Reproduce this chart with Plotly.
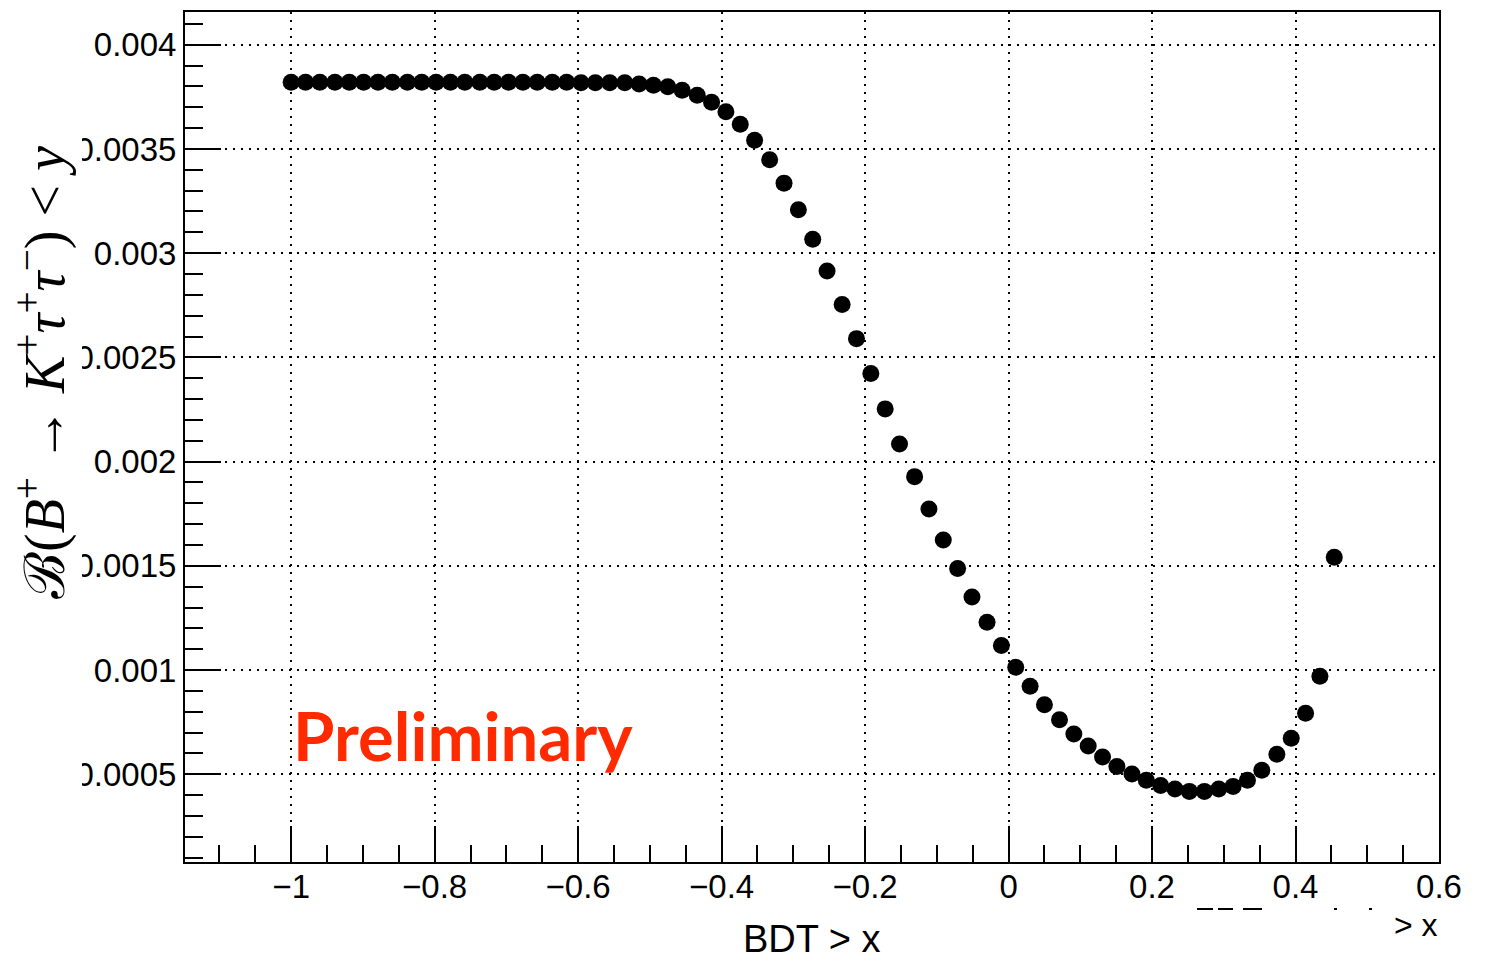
import plotly.graph_objects as go

# ---- data ----
bdt_cut = [-1.000, -0.980, -0.960, -0.939, -0.919, -0.899, -0.879, -0.859, -0.838, -0.818,
           -0.798, -0.778, -0.758, -0.737, -0.717, -0.697, -0.677, -0.657, -0.636, -0.616,
           -0.596, -0.576, -0.556, -0.535, -0.515, -0.495, -0.475, -0.455, -0.434, -0.414,
           -0.394, -0.374, -0.354, -0.333, -0.313, -0.293, -0.273, -0.253, -0.232, -0.212,
           -0.192, -0.172, -0.152, -0.131, -0.111, -0.091, -0.071, -0.051, -0.030, -0.010,
           0.010, 0.030, 0.050, 0.071, 0.091, 0.111, 0.131, 0.151, 0.172, 0.192,
           0.212, 0.232, 0.252, 0.273, 0.293, 0.313, 0.333, 0.353, 0.374, 0.394,
           0.414, 0.434, 0.454]

br_limit = [0.003820, 0.003820, 0.003820, 0.003820, 0.003820, 0.003820, 0.003820, 0.003820, 0.003820, 0.003820,
            0.003820, 0.003820, 0.003820, 0.003820, 0.003820, 0.003820, 0.003820, 0.003820, 0.003820, 0.003820,
            0.003818, 0.003818, 0.003818, 0.003818, 0.003812, 0.003806, 0.003798, 0.003782, 0.003758, 0.003724,
            0.003678, 0.003619, 0.003542, 0.003448, 0.003336, 0.003208, 0.003067, 0.002915, 0.002754, 0.002590,
            0.002423, 0.002253, 0.002085, 0.001928, 0.001773, 0.001624, 0.001487, 0.001351, 0.001229, 0.001118,
            0.001013, 0.000922, 0.000834, 0.000762, 0.000693, 0.000636, 0.000583, 0.000537, 0.000501, 0.000471,
            0.000446, 0.000429, 0.000418, 0.000418, 0.000429, 0.000442, 0.000471, 0.000519, 0.000596, 0.000673,
            0.000793, 0.000970, 0.001541]

x_tick_vals = [-1.0, -0.8, -0.6, -0.4, -0.2, 0.0, 0.2, 0.4, 0.6]
x_tick_text = ["\u22121", "\u22120.8", "\u22120.6", "\u22120.4", "\u22120.2", "0", "0.2", "0.4", "0.6"]
y_tick_vals = [0.0005, 0.001, 0.0015, 0.002, 0.0025, 0.003, 0.0035, 0.004]
y_tick_text = ["0.0005", "0.001", "0.0015", "0.002", "0.0025", "0.003", "0.0035", "0.004"]

x_range = [-1.148, 0.6]
y_range = [0.0000792, 0.004157]

W, H = 1488, 963
ML, MR, MT, MB = 185, 49, 12, 101
PW, PH = W - ML - MR, H - MT - MB


def px(xp):
    return (xp - ML) / PW


def py(yp):
    return (H - MB - yp) / PH


fig = go.Figure()
fig.add_trace(go.Scatter(
    x=bdt_cut, y=br_limit, mode="markers",
    marker=dict(symbol="circle", size=17, color="black", line=dict(width=0)),
    showlegend=False, hoverinfo="x+y",
))

tickfont = dict(family="Liberation Sans, Arial, sans-serif", size=33, color="black")
grid = dict(showgrid=True, gridcolor="black", gridwidth=2, griddash="2px,6px")

fig.update_xaxes(
    range=x_range, tickmode="array", tickvals=x_tick_vals, ticktext=x_tick_text,
    ticks="inside", ticklen=36, tickwidth=2, tickcolor="black",
    minor=dict(dtick=0.05, tick0=0, ticks="inside", ticklen=17, tickwidth=2, tickcolor="black", showgrid=False),
    showline=True, linecolor="black", linewidth=2, mirror=True,
    zeroline=False, tickfont=tickfont, ticklabelstandoff=-6, **grid,
)
fig.update_yaxes(
    range=y_range, tickmode="array", tickvals=y_tick_vals, ticktext=y_tick_text,
    ticks="inside", ticklen=36, tickwidth=2, tickcolor="black",
    minor=dict(dtick=0.0001, tick0=0, ticks="inside", ticklen=18, tickwidth=2, tickcolor="black", showgrid=False),
    showline=True, linecolor="black", linewidth=2, mirror=True,
    zeroline=False, tickfont=tickfont, **grid,
)

shapes = [
    # white mask that clips the left of the longest y tick labels (as in the reference)
    dict(type="rect", xref="paper", yref="paper", x0=px(-20), x1=px(82), y0=py(830), y1=py(0),
         fillcolor="white", line=dict(width=0), layer="above"),
]
# small fragments of a hidden label at bottom-right
for (a, b) in [(1197, 1213), (1218, 1233), (1243, 1262), (1334, 1337), (1369, 1372)]:
    shapes.append(dict(type="line", xref="paper", yref="paper", x0=px(a), x1=px(b),
                       y0=py(909), y1=py(909), line=dict(color="black", width=2)))

annotations = [
    dict(text="\u212C(<i>B</i><sup>+</sup> \u2192 <i>K</i><sup>+</sup><i>\u03C4</i><sup>+</sup><i>\u03C4</i><sup>\u2212</sup>) &lt; <i>y</i>",
         textangle=-90, xref="paper", yref="paper", x=px(41), y=py(373),
         xanchor="center", yanchor="middle", showarrow=False,
         font=dict(family="Liberation Serif, DejaVu Serif, serif", size=56, color="black")),
    dict(text="BDT &gt; x", xref="paper", yref="paper", x=px(812), y=py(939),
         xanchor="center", yanchor="middle", showarrow=False,
         font=dict(family="Liberation Sans, Arial, sans-serif", size=38, color="black")),
    dict(text="&gt; x", xref="paper", yref="paper", x=px(1416), y=py(925),
         xanchor="center", yanchor="middle", showarrow=False,
         font=dict(family="Liberation Sans, Arial, sans-serif", size=32, color="black")),
    dict(text="<b>Preliminary</b>", xref="paper", yref="paper", x=px(291), y=py(735),
         xanchor="left", yanchor="middle", showarrow=False,
         font=dict(family="Lato, Noto Sans, sans-serif", size=67, color="#ff2a00")),
]

fig.update_layout(
    width=W, height=H, margin=dict(l=ML, r=MR, t=MT, b=MB, autoexpand=False),
    paper_bgcolor="white", plot_bgcolor="white",
    shapes=shapes, annotations=annotations,
)

fig.write_html("out.html")
